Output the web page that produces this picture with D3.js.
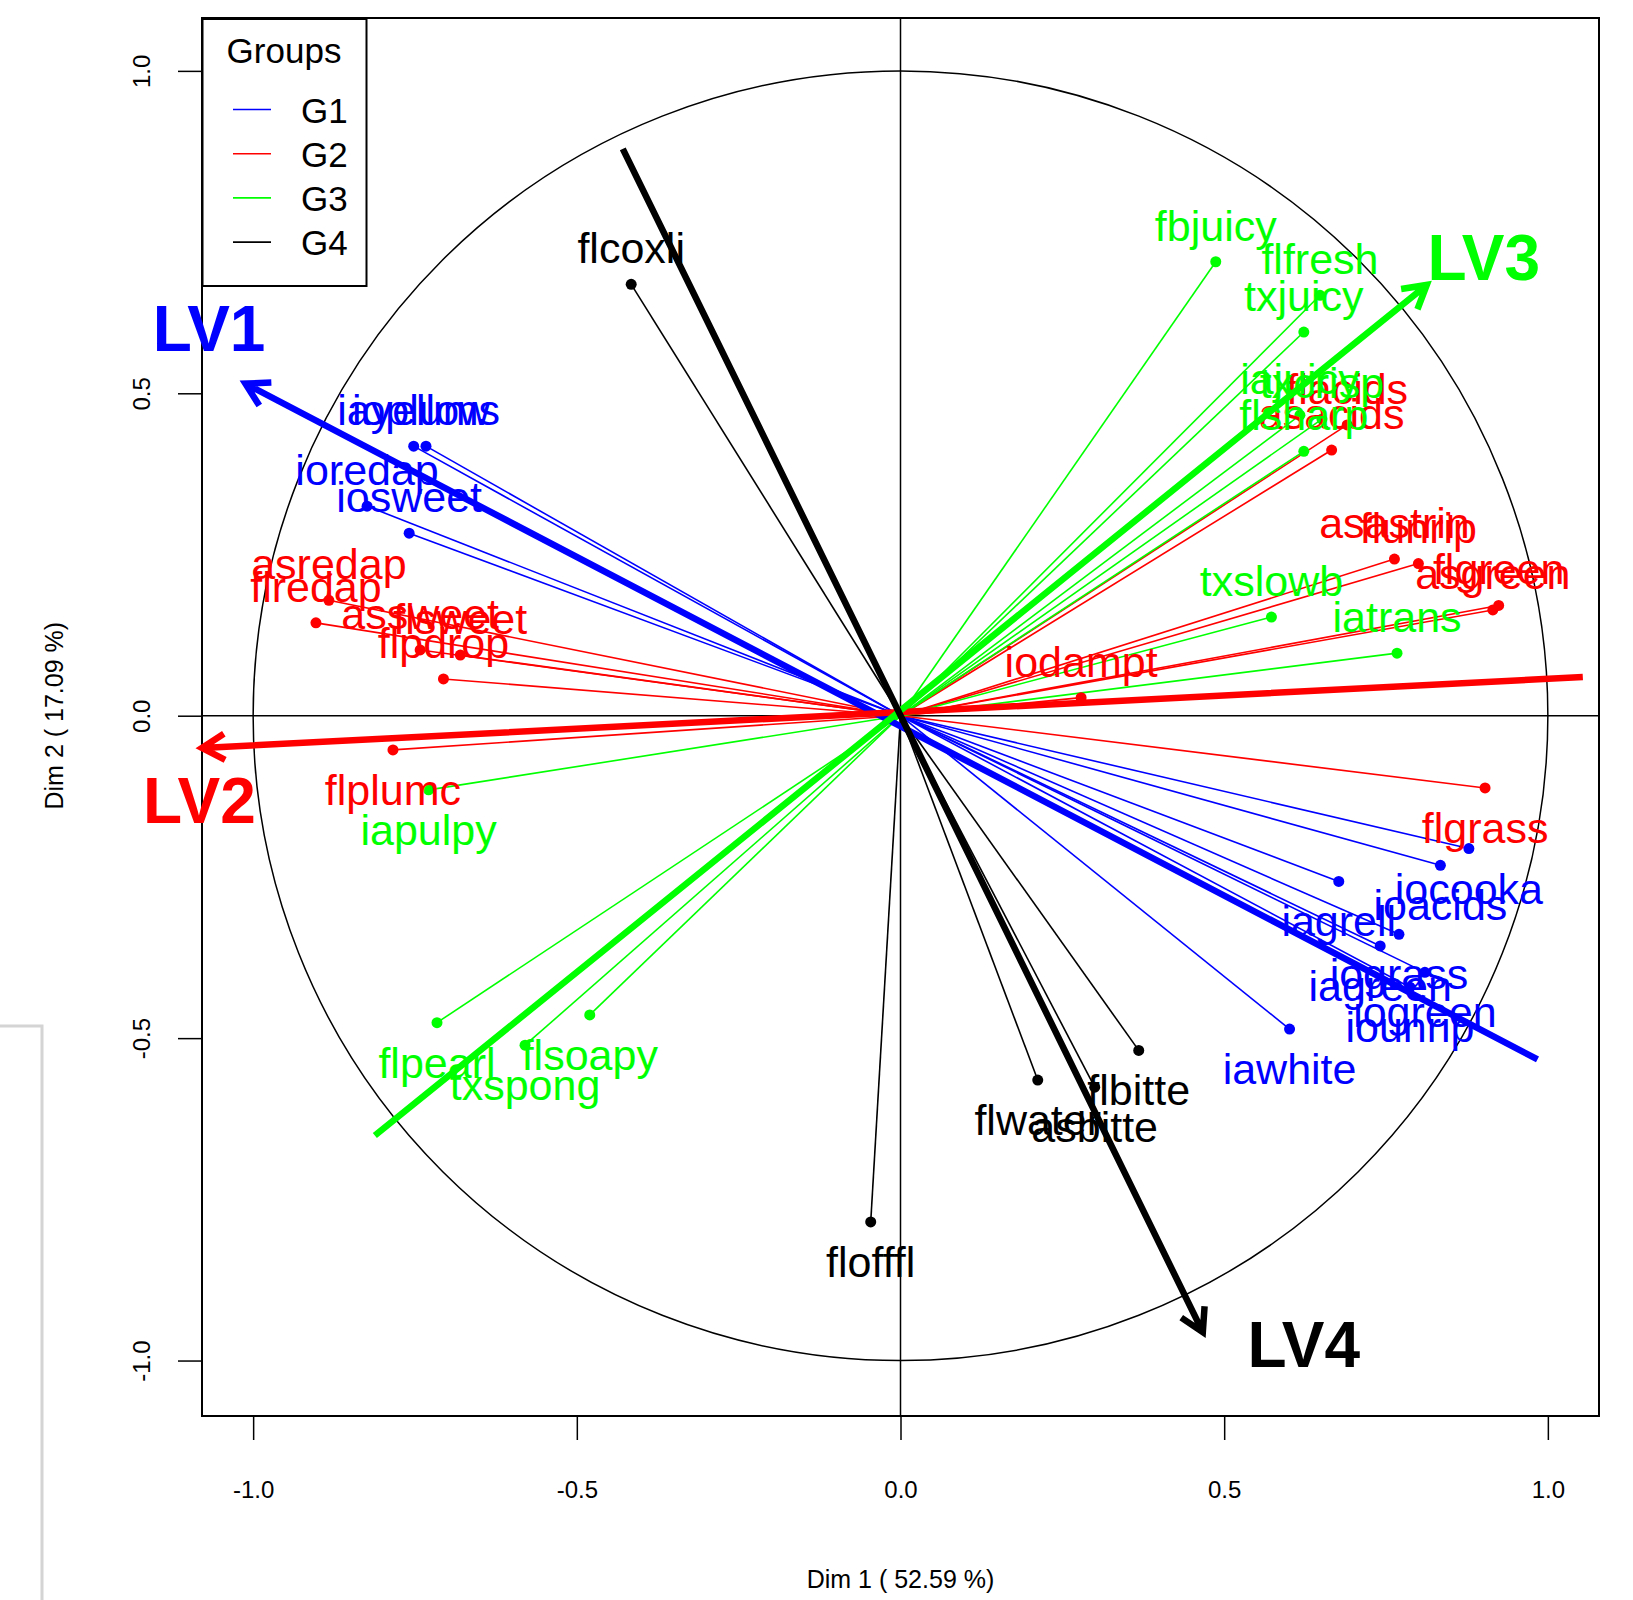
<!DOCTYPE html>
<html>
<head>
<meta charset="utf-8">
<script src="https://cdn.jsdelivr.net/npm/d3@7"></script>
<style>
body{margin:0;background:#fff;}
svg{display:block;font-family:"Liberation Sans",Arial,sans-serif;}
</style>
</head>
<body>
<svg id="chart" width="1633" height="1600"></svg>
<script>
// groups of variables
var groups = ["G1","G2","G3","G4"];
var groupColors = ["#0000ff","#ff0000","#00ff00","#000000"];

// variables : name, group index, coordinates on dim 1 / dim 2
var varNames = [
	"iayellow","ioplums","ioredap","iosweet","iocooka","ioacids","iagrell","iograss","iagreen","iogreen","iounrip","iawhite",
	"asredap","flredap","assweet","flsweet","flpdrop","flplumc","flgrass","iodampt","asastrin","flunrip","flgreen","asgreen","flacids","asacids",
	"fbjuicy","flfresh","txjuicy","iajuicy","txcrisp","flsharp","txslowb","iatrans","iapulpy","flpearl","txspong","flsoapy",
	"flcoxli","flofffl","flwater","asbitte","flbitte"
];
var varGroup = [
	0,0,0,0,0,0,0,0,0,0,0,0,
	1,1,1,1,1,1,1,1,1,1,1,1,1,1,
	2,2,2,2,2,2,2,2,2,2,2,2,
	3,3,3,3,3
];
var dim1 = [
	-0.752,-0.733,-0.824,-0.759,0.878,0.834,0.677,0.770,0.741,0.810,0.787,0.601,
	-0.883,-0.903,-0.742,-0.680,-0.706,-0.784,0.903,0.279,0.763,0.800,0.924,0.915,0.690,0.666,
	0.487,0.648,0.623,0.617,0.651,0.623,0.573,0.767,-0.729,-0.716,-0.580,-0.480,
	-0.416,-0.046,0.212,0.300,0.368
];
var dim2 = [
	0.418,0.418,0.325,0.283,-0.206,-0.232,-0.257,-0.339,-0.357,-0.398,-0.421,-0.486,
	0.179,0.144,0.102,0.094,0.057,-0.053,-0.112,0.028,0.243,0.236,0.171,0.164,0.451,0.412,
	0.704,0.652,0.595,0.466,0.460,0.410,0.153,0.097,-0.115,-0.476,-0.511,-0.464,
	0.669,-0.785,-0.565,-0.576,-0.519
];

// latent variables drawn as arrows
var lvNames = ["LV1","LV2","LV3","LV4"];
var lvFromX = [0.984, 1.054, -0.812, -0.429];
var lvFromY = [-0.533, 0.060, -0.651, 0.879];
var lvToX = [-1.012, -1.079, 0.813, 0.467];
var lvToY = [0.515, -0.050, 0.668, -0.956];
var lvLabX = [-1.068, -1.083, 0.901, 0.623];
var lvLabY = [0.565, -0.167, 0.676, -1.010];

var xTicks = [-1, -0.5, 0, 0.5, 1];
var yTicks = [-1, -0.5, 0, 0.5, 1];
var xTitle = "Dim 1 ( 52.59 %)";
var yTitle = "Dim 2 ( 17.09 %)";

var svg = d3.select("#chart");
var boxLeft = 202, boxRight = 1599, boxTop = 18, boxBottom = 1416;

var x = d3.scaleLinear().domain([-1.079, 1.079]).range([boxLeft, boxRight]);
var y = d3.scaleLinear().domain([-1.086, 1.082]).range([boxBottom, boxTop]);

// grey frame left over from the screenshot
svg.append("path")
	.attr("d", "M0,1026H42V1600")
	.attr("fill", "none")
	.attr("stroke", "#d4d4d4")
	.attr("stroke-width", 3);

// axes
var fmt = function(d){ return d.toFixed(1); };

var xAxis = svg.append("g")
	.attr("transform", "translate(0," + boxBottom + ")")
	.call(d3.axisBottom(x).tickValues(xTicks).tickFormat(fmt).tickSize(24).tickPadding(41));
xAxis.select(".domain").remove();
xAxis.selectAll("line").attr("stroke", "#000").attr("stroke-width", 1.5);
xAxis.selectAll("text").attr("font-size", 24).attr("fill", "#000").attr("font-family", null);

var yAxis = svg.append("g")
	.attr("transform", "translate(" + boxLeft + ",0)")
	.call(d3.axisLeft(y).tickValues(yTicks).tickFormat(fmt).tickSize(24));
yAxis.select(".domain").remove();
yAxis.selectAll("line").attr("stroke", "#000").attr("stroke-width", 1.5);
yAxis.selectAll("text")
	.attr("x", null).attr("dy", null)
	.attr("text-anchor", "middle")
	.attr("transform", "translate(-52,0) rotate(-90)")
	.attr("font-size", 24).attr("fill", "#000").attr("font-family", null);

svg.append("text")
	.attr("x", x(0)).attr("y", 1588)
	.attr("text-anchor", "middle")
	.attr("font-size", 25)
	.text(xTitle);

svg.append("text")
	.attr("transform", "translate(63," + y(0) + ") rotate(-90)")
	.attr("text-anchor", "middle")
	.attr("font-size", 25)
	.text(yTitle);

// box, cross and unit circle
svg.append("rect")
	.attr("x", boxLeft).attr("y", boxTop)
	.attr("width", boxRight - boxLeft).attr("height", boxBottom - boxTop)
	.attr("fill", "none").attr("stroke", "#000").attr("stroke-width", 2);

svg.append("line")
	.attr("x1", boxLeft).attr("x2", boxRight).attr("y1", y(0)).attr("y2", y(0))
	.attr("stroke", "#000").attr("stroke-width", 1.5);
svg.append("line")
	.attr("x1", x(0)).attr("x2", x(0)).attr("y1", boxTop).attr("y2", boxBottom)
	.attr("stroke", "#000").attr("stroke-width", 1.5);

svg.append("ellipse")
	.attr("cx", x(0)).attr("cy", y(0))
	.attr("rx", x(1) - x(0)).attr("ry", y(0) - y(1))
	.attr("fill", "none").attr("stroke", "#000").attr("stroke-width", 1.5);

// variables
var idx = d3.range(varNames.length);
var plot = svg.append("g");

plot.selectAll("line.seg").data(idx).enter()
	.append("line")
	.attr("class", "seg")
	.attr("x1", x(0)).attr("y1", y(0))
	.attr("x2", function(i){ return x(dim1[i]); })
	.attr("y2", function(i){ return y(dim2[i]); })
	.attr("stroke", function(i){ return groupColors[varGroup[i]]; })
	.attr("stroke-width", 1.6);

plot.selectAll("circle").data(idx).enter()
	.append("circle")
	.attr("cx", function(i){ return x(dim1[i]); })
	.attr("cy", function(i){ return y(dim2[i]); })
	.attr("r", 5.5)
	.attr("fill", function(i){ return groupColors[varGroup[i]]; });

plot.selectAll("text").data(idx).enter()
	.append("text")
	.attr("x", function(i){ return x(dim1[i]); })
	.attr("y", function(i){ return y(dim2[i]) + (dim2[i] >= 0 ? -21 : 55); })
	.attr("text-anchor", "middle")
	.attr("font-size", 43)
	.attr("fill", function(i){ return groupColors[varGroup[i]]; })
	.text(function(i){ return varNames[i]; });

// latent variable arrows
var lv = svg.append("g");
lvNames.forEach(function(name, i){
	var col = groupColors[i];
	var x1 = x(lvFromX[i]), y1 = y(lvFromY[i]);
	var x2 = x(lvToX[i]), y2 = y(lvToY[i]);
	var ang = Math.atan2(y2 - y1, x2 - x1);
	var len = 26, spread = Math.PI / 6;
	var a1 = ang + Math.PI - spread, a2 = ang + Math.PI + spread;
	var path = d3.path();
	path.moveTo(x1, y1);
	path.lineTo(x2, y2);
	path.moveTo(x2 + len * Math.cos(a1), y2 + len * Math.sin(a1));
	path.lineTo(x2, y2);
	path.lineTo(x2 + len * Math.cos(a2), y2 + len * Math.sin(a2));
	lv.append("path")
		.attr("d", path.toString())
		.attr("fill", "none")
		.attr("stroke", col)
		.attr("stroke-width", 6.5)
		.attr("stroke-linejoin", "miter");
	lv.append("text")
		.attr("x", x(lvLabX[i])).attr("y", y(lvLabY[i]))
		.attr("text-anchor", "middle")
		.attr("font-size", 64)
		.attr("font-weight", "bold")
		.attr("fill", col)
		.text(name);
});

// legend
var legend = svg.append("g");
legend.append("rect")
	.attr("x", 202.5).attr("y", 19).attr("width", 164).attr("height", 267)
	.attr("fill", "#fff").attr("stroke", "#000").attr("stroke-width", 2);
legend.append("text")
	.attr("x", 284).attr("y", 63)
	.attr("text-anchor", "middle").attr("font-size", 35)
	.text("Groups");
groups.forEach(function(g, i){
	var yy = 109.5 + i * 44.2;
	legend.append("line")
		.attr("x1", 233).attr("x2", 271).attr("y1", yy).attr("y2", yy)
		.attr("stroke", groupColors[i]).attr("stroke-width", 1.6);
	legend.append("text")
		.attr("x", 301).attr("y", yy + 13)
		.attr("font-size", 35)
		.text(g);
});
</script>
</body>
</html>
